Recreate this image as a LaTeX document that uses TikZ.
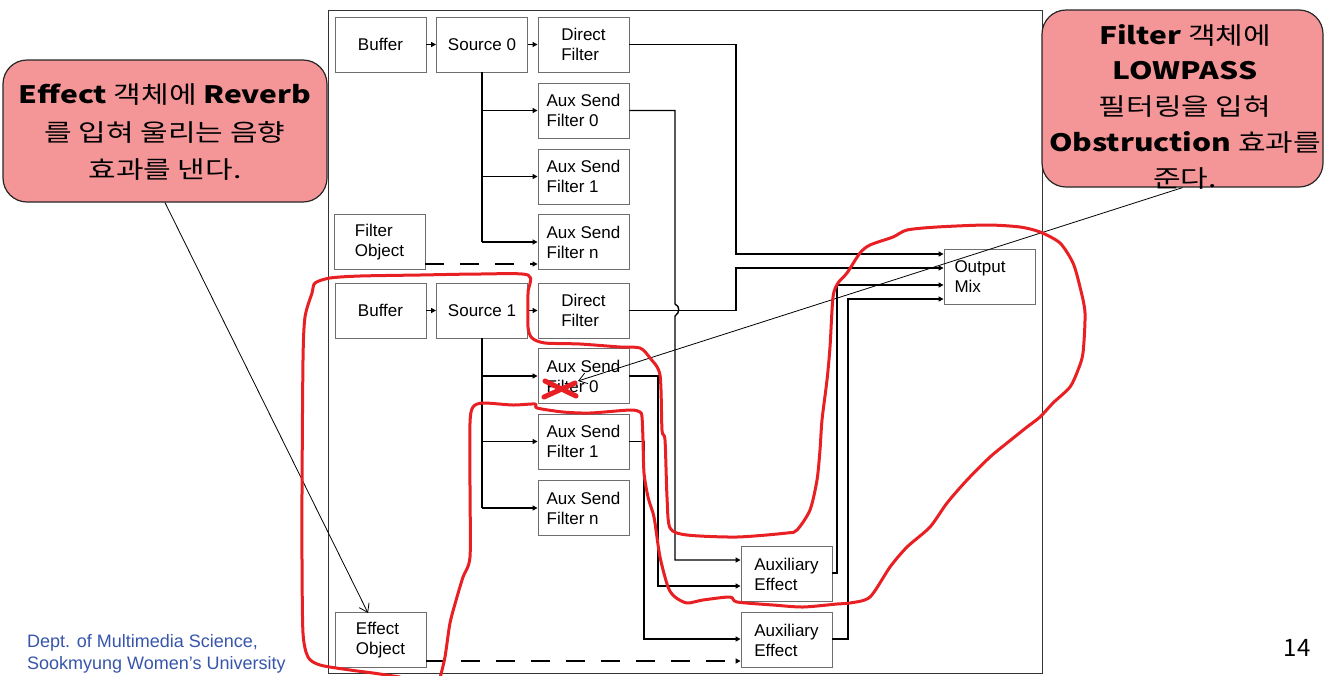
\documentclass[tikz,border=0pt]{standalone}
\usepackage{fontspec}
\setmainfont{Liberation Sans}
\newfontfamily\callfont[FakeStretch=1.25]{Noto Sans CJK KR}
\newfontfamily\numfont{Noto Sans CJK KR}
\usetikzlibrary{arrows.meta,calc}
\definecolor{boxgray}{RGB}{110,110,110}
\definecolor{callfill}{RGB}{244,150,152}
\definecolor{penred}{RGB}{232,32,36}
\definecolor{footblue}{RGB}{55,85,170}
\tikzset{
  blk/.style={draw=boxgray, line width=0.9pt, minimum width=91pt, minimum height=55pt, inner sep=0pt, align=left, font=\fontsize{17}{20}\selectfont},
  conn/.style={line width=1.4pt, -{Triangle[length=5pt,width=5pt]}},
  plainline/.style={line width=1.4pt},
  dashconn/.style={line width=1.4pt, dash pattern=on 19pt off 16pt, -{Triangle[length=5pt,width=5pt]}},
  callout/.style={draw=black!85, line width=1.2pt, fill=callfill, rounded corners=24pt, inner sep=0pt},
  calltext/.style={align=center, inner sep=0pt, font=\callfont\fontsize{24}{37.5}\selectfont},
  pointer/.style={line width=0.8pt, -{Straight Barb[length=8pt,width=11pt]}},
  redpen/.style={penred, line width=3pt, line cap=round, line join=round},
}
\begin{document}
\begin{tikzpicture}[x=1pt,y=-1pt]
\useasboundingbox (0,0) rectangle (1329,675);
% frame
\draw[black!80, line width=1pt] (328,10) rectangle (1042,673);

% group 0
\node[blk] (buf0) at (380.5,44.5) {Buffer};
\node[blk] (src0) at (482,44.5) {Source 0};
\node[blk] (df0) at (583.5,44.5) {Direct\\Filter};
\node[blk] (as00) at (583.5,110.5) {Aux Send\\Filter 0};
\node[blk] (as01) at (583.5,176.5) {Aux Send\\Filter 1};
\node[blk] (as0n) at (583.5,242) {Aux Send\\Filter n};
\node[blk] (fobj) at (379.5,242) {Filter\\Object};
% group 1
\node[blk] (buf1) at (380.5,310.5) {Buffer};
\node[blk] (src1) at (482,310.5) {Source 1};
\node[blk] (df1) at (583.5,310.5) {Direct\\Filter};
\node[blk] (as10) at (583.5,376) {Aux Send\\Filter 0};
\node[blk] (as11) at (583.5,441.5) {Aux Send\\Filter 1};
\node[blk] (as1n) at (583.5,508) {Aux Send\\Filter n};
\node[blk] (eobj) at (380.5,640) {Effect\\Object};
% outputs
\node[blk, text width=70pt] (omix) at (989.5,276.5) {Output\\Mix};
\node[blk] (aux1) at (786.5,574) {Auxiliary\\Effect};
\node[blk] (aux2) at (786.5,640) {Auxiliary\\Effect};

% connectors group 0
\draw[conn] (buf0.east) -- (src0.west);
\draw[conn] (src0.east) -- (df0.west);
\draw[plainline] (src0.south) -- (src0.south |- as0n.west);
\draw[conn] (src0.south |- as00.west) -- (as00.west);
\draw[conn] (src0.south |- as01.west) -- (as01.west);
\draw[conn] (src0.south |- as0n.west) -- (as0n.west);
\draw[dashconn] (fobj.east |- 0,264) -- (as0n.west |- 0,264);
% connectors group 1
\draw[conn] (buf1.east) -- (src1.west);
\draw[conn] (src1.east) -- (df1.west);
\draw[plainline] (src1.south) -- (src1.south |- as1n.west);
\draw[conn] (src1.south |- as10.west) -- (as10.west);
\draw[conn] (src1.south |- as11.west) -- (as11.west);
\draw[conn] (src1.south |- as1n.west) -- (as1n.west);
\draw[dashconn] (eobj.east |- 0,661) -- (aux2.west |- 0,661);

% to output mix / aux effects
\draw[conn] (df0.east) -- (736,44.5) -- (736,254) -- (omix.west |- 0,254);
\draw[conn] (df1.east) -- (736,310.5) -- (736,268) -- (omix.west |- 0,268);
\draw[conn] (as00.east) -- (675,110.5) -- (675,304)
   .. controls (680,306) and (680,313) .. (675,316) -- (675,560) -- (aux1.west |- 0,560);
\draw[conn] (as10.east) -- (658,376) -- (658,586) -- (aux1.west |- 0,586);
\draw[conn] (as11.east) -- (644,441.5) -- (644,639) -- (aux2.west |- 0,639);
\draw[conn] (aux1.east |- 0,573) -- (837,573) -- (837,285) -- (omix.west |- 0,285);
\draw[conn] (aux2.east |- 0,639) -- (848,639) -- (848,299) -- (omix.west |- 0,299);

% callouts
\node[callout, minimum width=324pt, minimum height=142pt] (lcall) at (165,131) {};
\node[calltext] (ltext) at (165,132.5) {\textbf{Effect} 객체에 \textbf{Reverb}\\를 입혀 울리는 음향\\효과를 낸다.};
\node[callout, minimum width=281pt, minimum height=177pt] (rcall) at (1182.5,98.5) {};
\node[calltext, font=\callfont\fontsize{24}{35.75}\selectfont] (rtext) at (1185,106.5) {\textbf{Filter} 객체에\\\textbf{LOWPASS}\\필터링을 입혀\\\textbf{Obstruction} 효과를\\준다.};

\coordinate (etip) at (368,613);
\coordinate (otip) at (578,381);
\draw[pointer] (lcall.south) -- (etip);
\draw[pointer] (rcall.south) -- (otip);

% red pen annotation
\draw[redpen] plot[smooth, tension=0.45] coordinates {
(440,678) (445,657) (450,623) (457,597) (463,577) (470,557) (470,490) (470,423) (473,407) (483,403)
(513,405) (535,404) (537,408) (563,412) (590,413) (630,410) (640,412) (642,417) (643,440) (644,473)
(648,497) (653,513) (655,523) (660,557) (668,587) (675,597) (687,603) (703,600) (730,597) (737,602)
(773,605) (803,607) (837,604) (850,603) (870,597) (890,567) (907,547) (930,527) (947,503) (967,480)
(990,457) (1007,443) (1027,427) (1040,417) (1053,403) (1070,387) (1078,370) (1083,353) (1085,313)
(1080,287) (1073,263) (1060,243) (1040,232) (1020,227) (987,225) (937,227) (907,230) (893,237)
(870,245) (860,253) (847,273) (838,283) (833,297) (830,347) (827,380) (822,420) (820,450) (817,480)
(810,510) (797,530) (787,533) (737,537) (687,535) (670,528) (667,497) (665,440) (662,430) (660,375)
(650,358) (640,348) (620,347) (580,344) (545,343) (532,338) (528,327) (528,293) (528,275) (480,274)
(420,275) (360,276) (330,278) (315,283) (312,293) (305,317) (303,360) (302,493) (302,560) (303,633)
(308,657) (320,665) (350,670) (373,673) (400,677)};
\draw[redpen, line width=5pt] (545,381) -- (576,396);
\draw[redpen, line width=5pt] (544,397) -- (575,383);

% footer
\node[anchor=west, inner sep=0pt, text=footblue, align=left, font=\fontsize{18}{22}\selectfont] (foot) at (27,654) {Dept. of Multimedia Science,\\Sookmyung Women’s University};
\node[inner sep=0pt, font=\numfont\fontsize{24}{24}\selectfont] (pnum) at (1297,648) {14};
\end{tikzpicture}
\end{document}
